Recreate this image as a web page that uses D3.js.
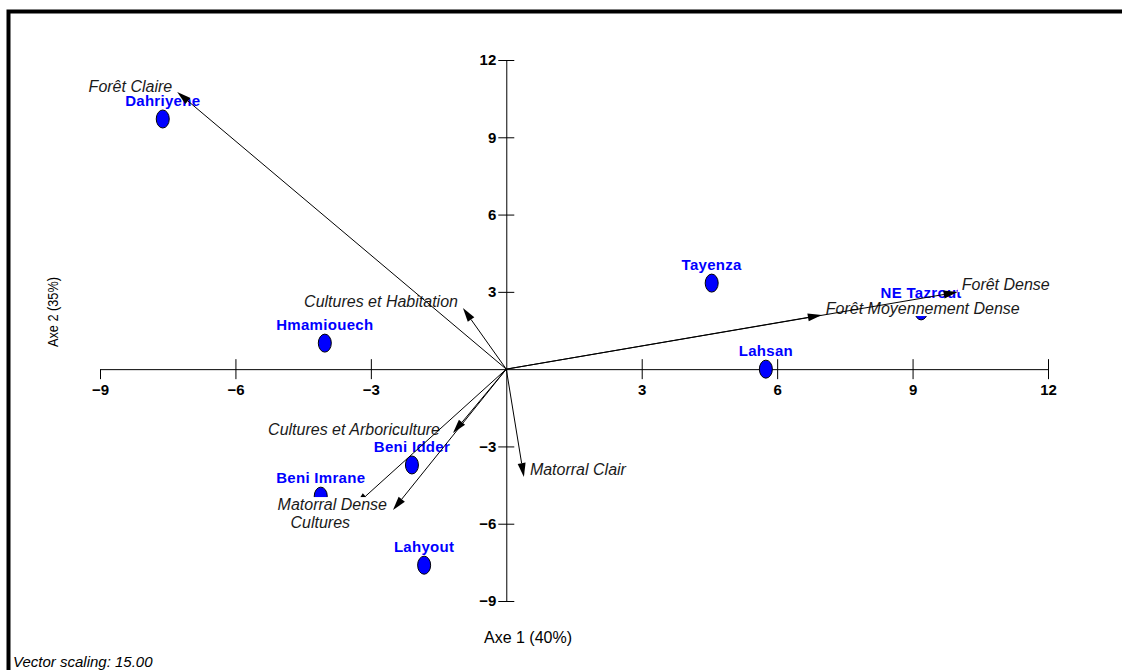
<!DOCTYPE html>
<html>
<head>
<meta charset="utf-8">
<script src="https://cdn.jsdelivr.net/npm/d3@7"></script>
<style>
  html, body { margin: 0; padding: 0; background: #fff; }
  svg { display: block; font-family: "Liberation Sans", Arial, sans-serif; }
</style>
</head>
<body>
<svg id="chart" width="1122" height="670"></svg>
<script>
// Sites (scores on axes 1 and 2)
const siteNames = ["Dahriyene", "Hmamiouech", "Tayenza", "NE Tazrout", "Lahsan", "Beni Idder", "Beni Imrane", "Lahyout"];
const siteAxis1 = [-7.61, -4.02, 4.55, 9.19, 5.75, -2.09, -4.11, -1.82];
const siteAxis2 = [9.71, 1.01, 3.34, 2.26, 0.0, -3.72, -4.93, -7.61];

// Land-cover variables (scaled vectors), in drawing order
const varNames = ["Cultures et Arboriculture", "Cultures", "Cultures et Habitation", "Forêt Moyennement Dense",
                  "Matorral Clair", "Matorral Dense", "Forêt Claire", "Forêt Dense"];
const varAxis1 = [-1.18, -3.35, -0.96, 6.99, 0.39, -2.51, -7.29, 10.0];
const varAxis2 = [-2.48, -5.30, 2.37, 2.10, -4.19, -5.47, 10.76, 2.99];

// Axis ticks
const xTickValues = [-9, -6, -3, 3, 6, 9, 12];
const yTickValues = [-9, -6, -3, 3, 6, 9, 12];
const xDomain = [-9, 12];
const yDomain = [-9, 12];

const axis1Title = "Axe 1 (40%)";
const axis2Title = "Axe 2 (35%)";
const footnote = "Vector scaling: 15.00";

// Label placement for the variable names, relative to each arrow tip (px)
const varLabelLayout = {
  "Cultures et Arboriculture": { anchor: "end", dx: -13, dy: 2 },
  "Cultures": { anchor: "end", dx: -5, dy: 22 },
  "Cultures et Habitation": { anchor: "end", dx: -5, dy: -1 },
  "Forêt Moyennement Dense": { anchor: "start", dx: 4, dy: -1 },
  "Matorral Clair": { anchor: "start", dx: 6, dy: -2 },
  "Matorral Dense": { anchor: "end", dx: -6, dy: 0 },
  "Forêt Claire": { anchor: "end", dx: -5, dy: 0 },
  "Forêt Dense": { anchor: "start", dx: 4, dy: -2 }
};

const svg = d3.select("#chart");

// Outer frame (only top and left edges fall inside the page)
svg.append("rect")
  .attr("x", 8.5).attr("y", 11.5)
  .attr("width", 1200).attr("height", 800)
  .attr("fill", "#fff")
  .attr("stroke", "#000").attr("stroke-width", 4);

const x = d3.scaleLinear().domain(xDomain).range([100, 1048]);
const y = d3.scaleLinear().domain(yDomain).range([601, 60]);
const ox = x(0), oy = y(0);

// Axis 1 through the origin
const gx = svg.append("g")
  .attr("transform", `translate(0,${oy})`)
  .call(d3.axisBottom(x).tickValues(xTickValues).tickSize(10).tickSizeOuter(0).tickPadding(5).tickFormat(d3.format("d")));
gx.selectAll(".tick line").attr("y1", d => d === -9 ? 0 : -10).attr("y2", 10);

// Axis 2 through the origin
const gy = svg.append("g")
  .attr("transform", `translate(${ox},0)`)
  .call(d3.axisLeft(y).tickValues(yTickValues).tickSize(8).tickSizeOuter(0).tickPadding(2).tickFormat(d3.format("d")));
gy.selectAll(".tick line").attr("x1", 8);

[gx, gy].forEach(g => {
  g.attr("font-size", 15).attr("font-family", "Liberation Sans, Arial, sans-serif");
  g.selectAll(".tick text").attr("font-weight", "bold").attr("fill", "#000");
});
svg.selectAll(".domain, .tick line").attr("stroke", "#000").attr("stroke-width", 1);

// Axis titles
svg.append("text")
  .attr("x", 528).attr("y", 643)
  .attr("text-anchor", "middle")
  .attr("font-size", 16).attr("fill", "#000")
  .text(axis1Title);

svg.append("text")
  .attr("transform", "translate(58,312) rotate(-90)")
  .attr("text-anchor", "middle")
  .attr("font-size", 14).attr("fill", "#000")
  .attr("textLength", 70).attr("lengthAdjust", "spacingAndGlyphs")
  .text(axis2Title);

svg.append("text")
  .attr("x", 13).attr("y", 667)
  .attr("font-size", 15).attr("font-style", "italic").attr("fill", "#000")
  .text(footnote);

// Sites
const sites = siteNames.map((n, i) => ({ name: n, a1: siteAxis1[i], a2: siteAxis2[i] }));
const gs = svg.append("g").selectAll("g").data(sites).join("g");
gs.append("ellipse")
  .attr("cx", d => x(d.a1)).attr("cy", d => y(d.a2))
  .attr("rx", 6.5).attr("ry", 9)
  .attr("fill", "#0000ff").attr("stroke", "#000").attr("stroke-width", 1);
gs.append("text")
  .attr("x", d => x(d.a1)).attr("y", d => y(d.a2) - 13)
  .attr("text-anchor", "middle")
  .attr("font-size", 15).attr("font-weight", "bold")
  .attr("letter-spacing", 0.3)
  .attr("fill", "#0000ff")
  .text(d => d.name);

// Variable vectors: boxed label, then arrow and head on top
const vars = varNames.map((n, i) => ({ name: n, a1: varAxis1[i], a2: varAxis2[i] }));
const headLen = 14, headHalf = 4;
vars.forEach(d => {
  const g = svg.append("g");
  const tx = x(d.a1), ty = y(d.a2);
  const lay = varLabelLayout[d.name];
  const box = g.append("rect").attr("fill", "#fff");
  const t = g.append("text")
    .attr("x", tx + lay.dx).attr("y", ty + lay.dy)
    .attr("text-anchor", lay.anchor)
    .attr("font-size", 16).attr("font-style", "italic")
    .attr("fill", "#1a1a1a")
    .text(d.name);
  const bb = t.node().getBBox();
  const baseline = ty + lay.dy;
  box.attr("x", bb.x - 4).attr("y", bb.y + 1)
    .attr("width", bb.width + 8).attr("height", baseline + 2 - (bb.y + 1));

  const ang = Math.atan2(ty - oy, tx - ox);
  const bx = tx - headLen * Math.cos(ang), by = ty - headLen * Math.sin(ang);
  g.append("line")
    .attr("x1", ox).attr("y1", oy).attr("x2", bx).attr("y2", by)
    .attr("stroke", "#000").attr("stroke-width", 1);
  const px = -Math.sin(ang) * headHalf, py = Math.cos(ang) * headHalf;
  g.append("path")
    .attr("d", `M${tx},${ty}L${bx + px},${by + py}L${bx - px},${by - py}Z`)
    .attr("fill", "#000");
});
</script>
</body>
</html>
